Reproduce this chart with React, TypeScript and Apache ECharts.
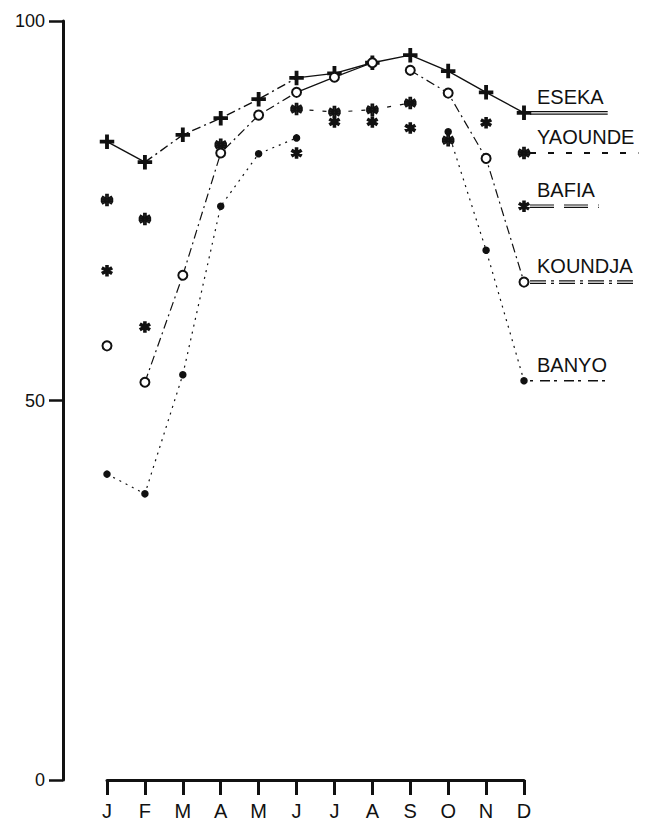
import React, { useEffect, useRef } from "react";
import * as echarts from "echarts";

const MONTHS = ["J", "F", "M", "A", "M", "J", "J", "A", "S", "O", "N", "D"];
const Y_TICKS = [0, 50, 100];

const STATIONS = ["ESEKA", "YAOUNDE", "BAFIA", "KOUNDJA", "BANYO"];

const ESEKA = [84.1, 81.4, 85.0, 87.2, 89.7, 92.5, 93.1, 94.5, 95.5, 93.4, 90.6, 87.9];
const YAOUNDE = [76.4, 73.9, null, 83.7, null, 88.4, 88.0, 88.3, 89.2, 84.3, null, 82.6];
const BAFIA = [67.1, 59.7, null, null, null, 82.6, 86.7, 86.7, 85.9, null, 86.6, 75.6];
const KOUNDJA = [57.2, 52.4, 66.5, 82.6, 87.6, 90.6, 92.6, 94.5, 93.5, 90.5, 81.9, 65.6];
const BANYO = [40.3, 37.7, 53.4, 75.6, 82.5, 84.6, null, null, null, 85.4, 69.8, 52.6];

const VALUES: Record<string, (number | null)[]> = { ESEKA, YAOUNDE, BAFIA, KOUNDJA, BANYO };

const INK = "#111";
const DASHDOT = [9, 4, 2, 4];
const DASHED = [4, 9];
const DOTTED = [2, 5];

const PLUS = "path://M0,4.1h10v1.8h-10z M4.1,0h1.8v10h-1.8z";
const STAR =
  "path://M6,0L6,10L4,10L4,0Z M1.17,1.63L9.83,6.63L8.83,8.37L0.17,3.37Z M9.83,3.37L1.17,8.37L0.17,6.63L8.83,1.63Z";
const STAR8 =
  "path://M6,0L6,10L4,10L4,0Z M1.17,1.63L9.83,6.63L8.83,8.37L0.17,3.37Z M9.83,3.37L1.17,8.37L0.17,6.63L8.83,1.63Z M0,4L10,4L10,6L0,6Z";

const SYMBOLS: Record<string, any> = {
  ESEKA: { symbol: PLUS, size: 13, color: INK },
  YAOUNDE: { symbol: STAR8, size: 11, color: "#333" },
  BAFIA: { symbol: STAR, size: 10, color: INK },
  KOUNDJA: { symbol: "emptyCircle", size: 9, color: INK },
  BANYO: { symbol: "circle", size: 6, color: INK },
};

// segments: [fromIndex, toIndex, dash]
const SEGMENTS: Record<string, [number, number, any][]> = {
  ESEKA: [
    [0, 1, "solid"],
    [1, 5, DASHDOT],
    [5, 11, "solid"],
  ],
  YAOUNDE: [[5, 8, DASHED]],
  BAFIA: [],
  KOUNDJA: [
    [1, 5, DASHDOT],
    [5, 7, "solid"],
    [8, 11, DASHDOT],
  ],
  BANYO: [
    [0, 5, DOTTED],
    [9, 11, DOTTED],
  ],
};

const LEGEND_LINES: Record<string, { dash: any; double: boolean; width: number }> = {
  ESEKA: { dash: null, double: true, width: 1.3 },
  YAOUNDE: { dash: [6, 12], double: false, width: 2 },
  BAFIA: { dash: [24, 10], double: true, width: 1.2 },
  KOUNDJA: { dash: [16, 5, 3, 5], double: true, width: 1.2 },
  BANYO: { dash: [3, 7, 10, 4], double: false, width: 1.6 },
};

const LABEL_FONT = "Liberation Sans";
const LABEL_SIZE = 20;

function segmentData(vals: (number | null)[], a: number, b: number) {
  return vals.map((v, i) => (i >= a && i <= b ? v : null));
}

export default function App() {
  const ref = useRef<HTMLDivElement>(null);

  useEffect(() => {
    if (!ref.current) return;
    const chart = echarts.init(ref.current, undefined, { renderer: "svg" });

    const series: any[] = [];
    STATIONS.forEach((name) => {
      const vals = VALUES[name];
      SEGMENTS[name].forEach(([a, b, dash], k) => {
        series.push({
          name: name + "-seg" + k,
          type: "line",
          data: segmentData(vals, a, b),
          showSymbol: false,
          connectNulls: false,
          lineStyle: { color: INK, width: name === "ESEKA" ? 1.4 : 1.2, type: dash },
          silent: true,
          z: 2,
        });
      });
      const s = SYMBOLS[name];
      series.push({
        name,
        type: "line",
        data: vals,
        symbol: s.symbol,
        symbolSize: s.size,
        showSymbol: true,
        showAllSymbol: true,
        connectNulls: false,
        lineStyle: { width: 0, opacity: 0 },
        itemStyle: { color: s.color, borderColor: INK, borderWidth: 1.5 },
        z: 3,
      });
    });

    chart.setOption({
      animation: false,
      backgroundColor: "#fff",
      grid: { left: 107, right: 123, top: 21, bottom: 41, containLabel: false },
      xAxis: {
        type: "category",
        data: MONTHS,
        boundaryGap: false,
        axisLine: { show: true, lineStyle: { color: INK, width: 3 } },
        axisTick: { show: true, inside: false, length: 15, lineStyle: { color: INK, width: 3 }, alignWithLabel: true },
        axisLabel: {
          color: INK,
          fontFamily: LABEL_FONT,
          fontSize: 20,
          margin: 21,
          interval: 0,
        },
        splitLine: { show: false },
      },
      yAxis: {
        type: "value",
        min: Y_TICKS[0],
        max: Y_TICKS[Y_TICKS.length - 1],
        interval: Y_TICKS[1] - Y_TICKS[0],
        offset: 44,
        axisLine: { show: true, lineStyle: { color: INK, width: 3 } },
        axisTick: { show: true, inside: false, length: 14, lineStyle: { color: INK, width: 2.5 } },
        axisLabel: { color: INK, fontFamily: LABEL_FONT, fontSize: 18, margin: 18 },
        splitLine: { show: false },
      },
      series,
    });

    // end-of-line labels with style samples, positioned through the chart's scales
    const ctx = document.createElement("canvas").getContext("2d");
    const graphics: any[] = [];
    STATIONS.forEach((name) => {
      const vals = VALUES[name];
      const last = vals.length - 1;
      const p = chart.convertToPixel({ xAxisIndex: 0, yAxisIndex: 0 }, [last, vals[last] as number]) as number[];
      let tw = 80;
      if (ctx) {
        ctx.font = `${LABEL_SIZE}px "${LABEL_FONT}"`;
        tw = ctx.measureText(name).width;
      }
      const tx = p[0] + 13;
      graphics.push({
        type: "text",
        x: tx,
        y: p[1] - 6,
        style: {
          text: name,
          fill: INK,
          font: `${LABEL_SIZE}px "${LABEL_FONT}"`,
          textVerticalAlign: "bottom",
          verticalAlign: "bottom",
          align: "left",
        },
      });
      const ls = LEGEND_LINES[name];
      const offsets = ls.double ? [-1.2, 1.2] : [0];
      offsets.forEach((dy) => {
        graphics.push({
          type: "line",
          shape: { x1: p[0] + 6, y1: p[1] + dy, x2: tx + tw + 4, y2: p[1] + dy },
          style: { stroke: INK, lineWidth: ls.width, lineDash: ls.dash || undefined },
        });
      });
    });
    chart.setOption({ graphic: graphics });

    return () => chart.dispose();
  }, []);

  return (
    <div
      ref={ref}
      style={{ position: "fixed", left: 0, top: 0, width: 647, height: 821, background: "#fff" }}
    />
  );
}
